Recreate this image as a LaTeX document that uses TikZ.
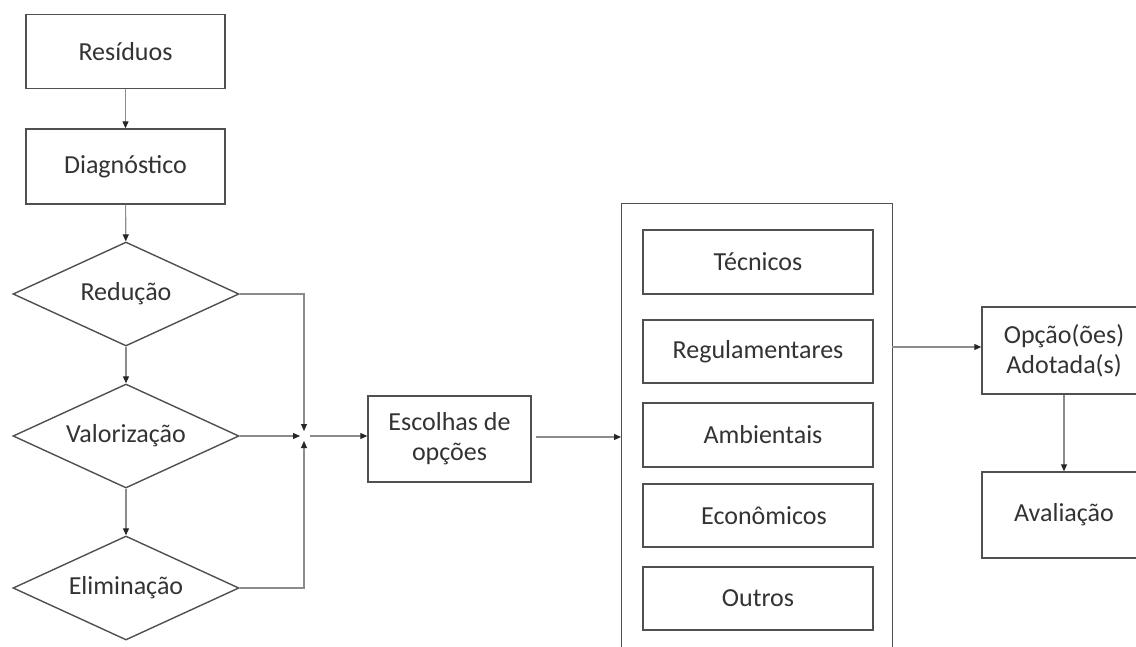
\documentclass[tikz,border=0pt]{standalone}
\usepackage{fontspec}
\setmainfont{Carlito}
\usetikzlibrary{shapes.geometric,arrows.meta}
\definecolor{boxline}{HTML}{505050}
\definecolor{conn}{HTML}{8C8C8C}
\definecolor{txt}{HTML}{333333}
\newcommand{\zw}[1]{\makebox[0pt]{#1}}
\tikzset{
  every node/.style={font=\fontsize{26}{30}\selectfont, text=txt},
  rbox/.style={draw=boxline, line width=1.4pt, rectangle, inner sep=0pt, align=center},
  dbox/.style={draw=boxline, line width=1.4pt, diamond, inner sep=0pt, minimum width=226pt, minimum height=104pt},
  conline/.style={draw=conn, line width=1.1pt},
  arr/.style={conline, -{Triangle[length=7pt,width=6pt,fill=black!85,color=black!85]}}
}
\begin{document}
\begin{tikzpicture}[x=1pt,y=-1pt]
\clip (0,0) rectangle (1136,646);
\fill[white] (0,0) rectangle (1136,646);
% left column
\node[rbox, minimum width=199pt, minimum height=74pt] (res) at (125.5,51.5) {Resíduos};
\node[rbox, minimum width=199pt, minimum height=75pt] (dia) at (125.5,166.5) {Diagnóstico};
\node[dbox] (red) at (126,294) {\zw{Redução}};
\node[dbox] (val) at (126,436) {\zw{Valorização}};
\node[dbox] (eli) at (126,588) {\zw{Eliminação}};
\coordinate (m) at (304,436);
% choices
\node[rbox, minimum width=163pt, minimum height=86pt] (esc) at (449.5,439) {Escolhas de\\opções};
% container
\node[rbox, minimum width=271pt, minimum height=520pt, anchor=north west] (cont) at (621,203) {};
\node[rbox, minimum width=230pt, minimum height=64pt] (tec) at (758,262) {Técnicos};
\node[rbox, minimum width=230pt, minimum height=63pt] (reg) at (758,351.5) {Regulamentares};
\node[rbox, minimum width=230pt, minimum height=64pt] (amb) at (758,435) {\hspace{10pt}Ambientais};
\node[rbox, minimum width=230pt, minimum height=63pt] (eco) at (758,515.5) {\hspace{12pt}Econômicos};
\node[rbox, minimum width=230pt, minimum height=63pt] (out) at (758,598.5) {Outros};
\coordinate (cr) at (892,347);
% right column
\node[rbox, minimum width=164pt, minimum height=87pt] (opc) at (1064,350.5) {Opção(ões)\\Adotada(s)};
\node[rbox, minimum width=164pt, minimum height=86pt] (ava) at (1064,515) {Avaliação};
% connectors
\draw[arr] (res) -- (dia);
\draw[arr] (dia) -- (red);
\draw[arr] (red) -- (val);
\draw[arr] (val) -- (eli);
\draw[arr, shorten >=5pt] (red.east) -| (m);
\draw[arr, shorten >=5pt] (eli.east) -| (m);
\draw[arr, shorten >=4pt] (val.east) -- (m);
\draw[arr, shorten <=6pt] (m) -- (m -| esc.west);
\draw[arr] ([xshift=4pt,yshift=2pt]esc.east) -- ([yshift=2pt]esc.east -| cont.west);
\draw[arr] (cr) -- (cr -| opc.west);
\draw[arr] (opc) -- (ava);
\end{tikzpicture}
\end{document}
